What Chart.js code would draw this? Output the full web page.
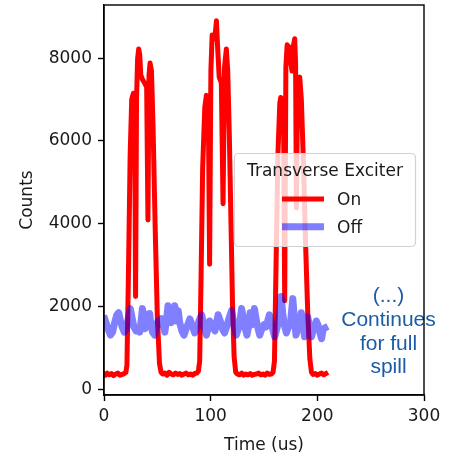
<!DOCTYPE html>
<html>
<head>
<meta charset="utf-8">
<script src="https://cdn.jsdelivr.net/npm/chart.js@4.4.1/dist/chart.umd.min.js"></script>
<style>
  html, body { margin: 0; padding: 0; background: #fff; }
  canvas { display: block; }
</style>
</head>
<body>
<canvas id="myChart" width="449" height="459"></canvas>
<script>
// Trace with the exciter on (red)
const onTime = [0, 1.5, 3, 5, 7, 9, 11, 13, 15, 17, 19, 20.5, 21.5, 23, 24.5, 26, 27.5, 28.7, 29.6, 30.5,
  31.5, 32.5, 33.5, 34.5, 36, 38, 40, 41.2, 42.2, 43.2, 44.5, 46, 48, 50, 52, 53.5, 55, 57, 59, 61,
  63, 65, 67, 69, 71, 73, 75, 77, 79, 81, 83, 85, 87, 88.5, 89.7, 91, 92.5, 94.5, 96, 97.8,
  99, 100.2, 101.4, 103, 104.2, 105.4, 106.5, 108, 110, 111.6, 113, 114.7, 116, 117.5, 119, 120.5, 122, 123.5, 125, 127,
  129, 131, 133, 135, 137, 139, 141, 143, 145, 147, 149, 151, 153, 155, 157, 158.5, 159.8, 161, 163, 164.8,
  165.7, 168.3, 169.4, 170.5, 171.7, 173.5, 175.2, 176.2, 177, 178.8, 179.6, 180.4, 181.5, 183.5, 185, 187, 189, 191, 193, 194.5,
  196, 198, 200, 202, 204, 206, 208];
const onCounts = [370, 340, 390, 350, 380, 330, 370, 390, 340, 360, 380, 410, 580, 2920, 5640, 7010, 7150, 7100, 2240, 7010,
  7980, 8220, 8080, 7590, 7490, 7400, 7300, 4090, 7590, 7880, 7690, 6330, 3890, 1750, 630, 410, 370, 390, 340, 410,
  370, 350, 390, 360, 380, 340, 370, 390, 350, 370, 340, 380, 390, 440, 680, 2720, 5350, 6810, 7100, 6910,
  3020, 7690, 8560, 8470, 8560, 8900, 8270, 7540, 7400, 4480, 7780, 8220, 7690, 6130, 4090, 2040, 780, 410, 370, 350,
  390, 340, 370, 350, 380, 340, 360, 370, 390, 350, 370, 340, 390, 360, 370, 410, 680, 2530, 5640, 6910,
  7050, 6910, 2140, 7780, 8320, 8270, 7880, 7690, 8220, 8470, 7880, 4380, 7300, 7540, 7010, 5450, 3500, 1850, 730, 410,
  360, 380, 340, 370, 390, 350, 380];

// Trace with the exciter off (blue)
const offTime = [0.7, 2.5, 4, 6, 8, 10, 12, 13.8, 15.5, 17, 19, 21, 23, 24.7, 26.5, 28, 30, 32, 33.5, 35,
  36, 37.5, 38.5, 40.3, 42.8, 44, 45.5, 47.5, 49, 50.6, 52, 53.8, 55.5, 57, 58.5, 60, 61.5, 63, 64.5, 66.3,
  68, 69.6, 71, 73, 75, 77, 78.5, 80.5, 82.5, 85, 87, 89, 91.5, 93.5, 96, 97.5, 99, 101, 102.5, 104,
  105.5, 107, 109, 111, 113, 115, 117, 119.6, 121.5, 124, 126, 127.5, 129, 131, 132.5, 134, 135.5, 137, 139, 141,
  143, 144.5, 146, 148, 150, 152, 153.5, 155, 157, 158.5, 160, 162, 164, 166, 167.5, 169, 171, 173, 175, 177,
  178.5, 180, 182, 183.5, 185, 186.5, 188, 189.5, 191, 193, 194.5, 196, 197.5, 199, 200.5, 202, 204, 205.5, 207];
const offCounts = [1700, 1560, 1440, 1310, 1380, 1610, 1800, 1850, 1650, 1510, 1380, 1460, 1750, 1950, 1700, 1510, 1410, 1460, 1380, 1700,
  1950, 1650, 1460, 1800, 1830, 1560, 1380, 1310, 1510, 1650, 1560, 1710, 1560, 1380, 1650, 2020, 1800, 1610, 1750, 2020,
  1650, 1900, 1610, 1410, 1310, 1460, 1560, 1700, 1560, 1360, 1460, 1650, 1800, 1560, 1310, 1460, 1650, 1560, 1480, 1410,
  1610, 1800, 1650, 1460, 1360, 1510, 1700, 1900, 1610, 1310, 1460, 1650, 1950, 1650, 1460, 1310, 1510, 1850, 1560, 1950,
  1650, 1460, 1310, 1460, 1560, 1510, 1650, 1800, 1610, 1410, 1270, 1460, 1650, 2240, 1850, 1560, 1360, 1510, 1650, 2190,
  1700, 1310, 1510, 1650, 1850, 1560, 1270, 1510, 1750, 1460, 1270, 1410, 1510, 1650, 1560, 1410, 1220, 1460, 1480];

const xTicks = [0, 100, 200, 300];
const yTicks = [0, 2000, 4000, 6000, 8000];
const seriesNames = ['On', 'Off'];
const legendTitle = 'Transverse Exciter';
const noteLines = ['(...)', 'Continues', 'for full', 'spill'];

function toPoints(xs, ys) {
    return xs.map((x, i) => ({ x: x, y: ys[i] }));
}

Chart.defaults.font.family = '"DejaVu Sans", sans-serif';
Chart.defaults.font.size = 17;
Chart.defaults.color = '#1a1a1a';

// legend drawn inside the axes, like matplotlib's
const legendBox = {
    id: 'legendBox',
    afterDatasetsDraw(chart) {
        const ctx = chart.ctx;
        ctx.save();
        ctx.beginPath();
        ctx.roundRect(234.5, 153.5, 181, 93, 4);
        ctx.fillStyle = 'rgba(255,255,255,0.8)';
        ctx.fill();
        ctx.strokeStyle = '#d2d2d2';
        ctx.lineWidth = 1.2;
        ctx.stroke();

        ctx.fillStyle = '#1a1a1a';
        ctx.font = '17px "DejaVu Sans"';
        ctx.textAlign = 'center';
        ctx.textBaseline = 'alphabetic';
        ctx.fillText(legendTitle, 325, 176);

        chart.data.datasets.forEach((ds, i) => {
            const ly = 199 + i * 27.7;
            ctx.strokeStyle = ds.borderColor;
            ctx.lineWidth = ds.borderWidth;
            ctx.lineCap = 'butt';
            ctx.beginPath();
            ctx.moveTo(282, ly);
            ctx.lineTo(324, ly);
            ctx.stroke();
            ctx.textAlign = 'left';
            ctx.fillText(ds.label, 337, ly + 6.3);
        });
        ctx.restore();
    }
};

// the blue note on the right
const noteText = {
    id: 'noteText',
    afterDraw(chart) {
        const ctx = chart.ctx;
        ctx.save();
        ctx.fillStyle = '#1c5ca6';
        ctx.font = '21px "Liberation Sans"';
        ctx.textAlign = 'center';
        ctx.textBaseline = 'alphabetic';
        noteLines.forEach((t, i) => ctx.fillText(t, 388.5, 302 + i * 23.8));
        ctx.restore();
    }
};

// top and right spines
const frame = {
    id: 'frame',
    afterDraw(chart) {
        const a = chart.chartArea;
        const ctx = chart.ctx;
        ctx.save();
        ctx.strokeStyle = '#000';
        ctx.lineWidth = 1.4;
        ctx.strokeRect(a.left, a.top, a.right - a.left, a.bottom - a.top);
        ctx.restore();
    }
};

const ctx = document.getElementById('myChart').getContext('2d');
const myChart = new Chart(ctx, {
    type: 'line',
    data: {
        datasets: [{
            label: seriesNames[0],
            data: toPoints(onTime, onCounts),
            borderColor: '#ff0000',
            borderWidth: 5,
            order: 1
        }, {
            label: seriesNames[1],
            data: toPoints(offTime, offCounts),
            borderColor: 'rgba(0,0,255,0.5)',
            borderWidth: 7,
            order: 0
        }]
    },
    options: {
        responsive: false,
        animation: false,
        devicePixelRatio: 1,
        layout: { padding: { top: 5, right: 25, left: 0, bottom: 0 } },
        elements: {
            point: { radius: 0 },
            line: { tension: 0, borderJoinStyle: 'round', borderCapStyle: 'square' }
        },
        datasets: { line: { clip: 0 } },
        plugins: {
            legend: { display: false },
            tooltip: { enabled: false }
        },
        scales: {
            x: {
                type: 'linear',
                min: 0,
                max: 300,
                afterBuildTicks: (scale) => { scale.ticks = xTicks.map(v => ({ value: v })); },
                afterFit: (scale) => { scale.height = 64; scale.paddingLeft = 0; scale.paddingRight = 0; },
                ticks: { padding: 5, callback: (v) => String(v), maxRotation: 0 },
                grid: { drawOnChartArea: false, tickLength: 6, tickWidth: 1.4, tickColor: '#000' },
                border: { display: true, color: '#000', width: 1.4 },
                title: { display: true, text: 'Time (us)', padding: { top: 0, bottom: 3 } }
            },
            y: {
                type: 'linear',
                min: -138,
                max: 9283,
                afterBuildTicks: (scale) => { scale.ticks = yTicks.map(v => ({ value: v })); },
                afterFit: (scale) => { scale.width = 104; scale.paddingTop = 0; scale.paddingBottom = 0; },
                ticks: { padding: 6, callback: (v) => String(v) },
                grid: { drawOnChartArea: false, tickLength: 6, tickWidth: 1.4, tickColor: '#000' },
                border: { display: true, color: '#000', width: 1.4 },
                title: { display: true, text: 'Counts', padding: { top: 17, bottom: 0 } }
            }
        }
    },
    plugins: [legendBox, noteText, frame]
});
</script>
</body>
</html>
